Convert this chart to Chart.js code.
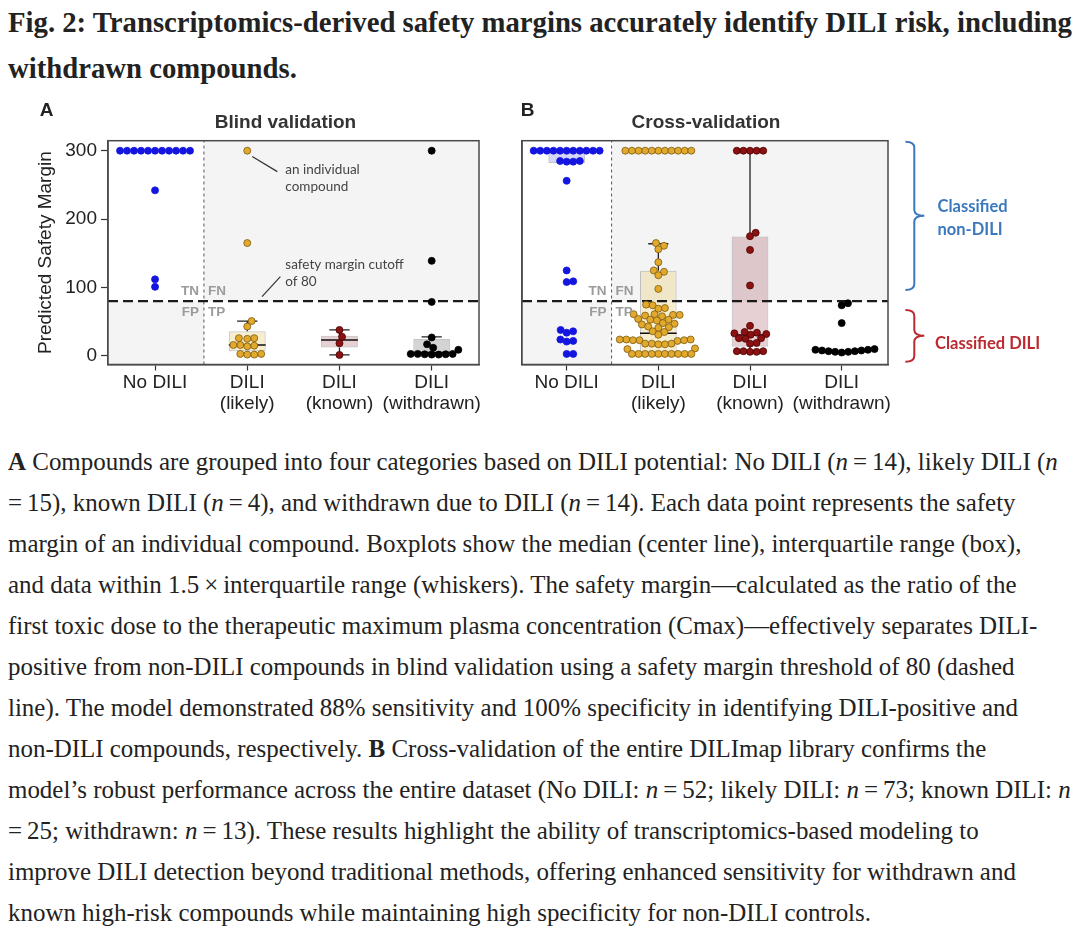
<!DOCTYPE html>
<html>
<head>
<meta charset="utf-8">
<title>Fig. 2 DILI safety margins</title>
<script src="https://cdn.jsdelivr.net/npm/chart.js@4.4.1/dist/chart.umd.min.js"></script>
<style>
  html, body { margin: 0; padding: 0; background: #fff; }
  body { width: 1080px; height: 939px; position: relative; overflow: hidden; color: #222; }
  #title { position: absolute; left: 8px; top: -1px; font-family: 'Liberation Serif', serif; font-weight: bold; font-size: 24px; line-height: 46px; white-space: nowrap; }
  #title div { height: 46px; }
  #caption { position: absolute; left: 8px; top: 440.5px; font-family: 'Liberation Serif', serif; font-size: 21px; line-height: 41px; white-space: nowrap; }
  #caption div { height: 41px; }
  canvas { position: absolute; top: 95px; }
  #blind { left: 0; }
  #cross { left: 500px; }
</style>
</head>
<body>
<div id="title">
  <div><span id="t1">Fig. 2: Transcriptomics-derived safety margins accurately identify DILI risk, including</span></div>
  <div>withdrawn compounds.</div>
</div>

<canvas id="blind" width="500" height="330"></canvas>
<canvas id="cross" width="580" height="330"></canvas>

<div id="caption">
  <div><span id="c1"><b>A</b> Compounds are grouped into four categories based on DILI potential: No DILI (<i>n</i>&thinsp;=&thinsp;14), likely DILI (<i>n</i></span></div>
  <div>=&thinsp;15), known DILI (<i>n</i>&thinsp;=&thinsp;4), and withdrawn due to DILI (<i>n</i>&thinsp;=&thinsp;14). Each data point represents the safety</div>
  <div>margin of an individual compound. Boxplots show the median (center line), interquartile range (box),</div>
  <div>and data within 1.5&thinsp;×&thinsp;interquartile range (whiskers). The safety margin—calculated as the ratio of the</div>
  <div>first toxic dose to the therapeutic maximum plasma concentration (Cmax)—effectively separates DILI-</div>
  <div>positive from non-DILI compounds in blind validation using a safety margin threshold of 80 (dashed</div>
  <div>line). The model demonstrated 88% sensitivity and 100% specificity in identifying DILI-positive and</div>
  <div>non-DILI compounds, respectively. <b>B</b> Cross-validation of the entire DILImap library confirms the</div>
  <div>model’s robust performance across the entire dataset (No DILI: <i>n</i>&thinsp;=&thinsp;52; likely DILI: <i>n</i>&thinsp;=&thinsp;73; known DILI: <i>n</i></div>
  <div>=&thinsp;25; withdrawn: <i>n</i>&thinsp;=&thinsp;13). These results highlight the ability of transcriptomics-based modeling to</div>
  <div>improve DILI detection beyond traditional methods, offering enhanced sensitivity for withdrawn and</div>
  <div>known high-risk compounds while maintaining high specificity for non-DILI controls.</div>
</div>

<script>
Chart.defaults.font.family = "'Liberation Sans', Arial, sans-serif";
Chart.defaults.color = '#222';

const categories = [['No DILI'], ['DILI', '(likely)'], ['DILI', '(known)'], ['DILI', '(withdrawn)']];
const yTicks = [0, 100, 200, 300];
const cutoff = 80;
const yMin = -12.5, yMax = 314.6;

// A - blind validation, predicted safety margin of each compound
const blindNoDili = [300, 300, 300, 300, 300, 300, 300, 300, 300, 300, 300, 242, 112, 101];
const blindLikely = [300, 165, 51, 43, 26, 26, 25, 16, 15, 16, 14, 3, 2, 2, 3];
const blindKnown = [38, 28, 18.5, 1.5];
const blindWithdrawn = [300, 139, 79, 27, 17, 12, 9, 3, 2.5, 2, 3, 2.5, 2, 3];

// A - boxplot stats per category (null = no box)
const blindLow = [null, 2, 1.5, 2];
const blindQ1 = [null, 7, 12.2, 5.4];
const blindMedian = [null, 16, 23.4, 5];
const blindQ3 = [null, 36, 29.7, 24.8];
const blindHigh = [null, 51, 38, 28];

// B - cross-validation
const crossNoDili = [300, 300, 300, 300, 300, 300, 300, 300, 300, 300, 300,
  285, 284, 285, 284, 256, 125, 109, 108, 38, 36, 34, 24, 22, 21, 3, 3];
const crossLikely = [300, 300, 300, 300, 300, 300, 300, 300, 300, 300, 300,
  165, 161, 156, 137, 125, 123, 118, 98,
  75, 74, 70, 69, 61, 60, 60, 59, 61, 58, 54, 53, 52, 53, 48, 47, 46,
  43, 42, 41, 36, 35, 31, 24, 23, 24, 23, 22, 24, 23,
  18, 17, 18, 17, 18, 11, 10,
  3, 3, 3, 3, 3, 3, 3, 3, 3, 3];
const crossKnown = [300, 300, 300, 300, 300, 180, 175, 155, 103, 44,
  35, 34, 33, 32, 31, 26, 25, 26, 19, 18, 7, 6, 7, 6, 7];
const crossWithdrawn = [77, 74, 48, 10, 9, 8, 7, 6, 5, 7, 8, 6, 9];

const crossLow = [null, 2, 5, null];
const crossQ1 = [282, 5.4, 13.6, null];
const crossMedian = [300, 33, 30.7, null];
const crossQ3 = [299, 124.7, 174.5, null];
const crossHigh = [null, 164, 300, null];

const pointFill = ['#1515e0', '#e3a92c', '#8b1212', '#000000'];
const pointEdge = ['#1515e0', '#7a5a10', '#4d0000', '#000000'];
const boxFill = ['rgba(70,70,225,0.22)', 'rgba(232,205,120,0.35)', 'rgba(140,40,55,0.22)', 'rgba(0,0,0,0.17)'];

// beeswarm: place each point (bottom up) as close to the category centre as it fits
function swarm(values, chart, diameter) {
  const xs = chart.scales.x, ys = chart.scales.y;
  const unit = xs.getPixelForValue(1) - xs.getPixelForValue(0);
  const order = values.map((v, i) => i).sort((a, b) => values[a] - values[b]);
  const placed = [];
  const out = [];
  order.forEach(i => {
    const py = ys.getPixelForValue(values[i]);
    const cands = [0];
    placed.forEach(p => {
      const dy = Math.abs(py - p.y);
      if (dy < diameter) {
        const dx = Math.sqrt(diameter * diameter - dy * dy);
        cands.push(p.x + dx, p.x - dx);
      }
    });
    cands.sort((a, b) => Math.abs(a) - Math.abs(b));
    const px = cands.find(c => placed.every(p => Math.hypot(c - p.x, py - p.y) >= diameter - 0.01));
    placed.push({x: px, y: py});
    out[i] = px / unit;
  });
  return out;
}

function boxParts(low, q1, med, q3, high) {
  const half = 0.2, cap = 0.11;
  const boxes = [], colors = [], meds = [], whisk = [];
  q1.forEach((v, c) => {
    if (v == null) return;
    boxes.push({x: c, y: [q1[c], q3[c]]});
    colors.push(boxFill[c]);
    meds.push({x: c - half, y: med[c]}, {x: c + half, y: med[c]}, {x: c, y: null});
    [[q3[c], high[c]], [q1[c], low[c]]].forEach(([from, to]) => {
      if (to == null) return;
      whisk.push({x: c, y: from}, {x: c, y: to}, {x: c, y: null},
        {x: c - cap, y: to}, {x: c + cap, y: to}, {x: c, y: null});
    });
  });
  return {boxes, colors, meds, whisk};
}

const panelDecor = {
  id: 'panelDecor',
  beforeDatasetsDraw(chart, args, opts) {
    const {ctx, chartArea: a, scales: {x, y}} = chart;
    const xs = x.getPixelForValue(opts.split);
    const yc = y.getPixelForValue(cutoff);
    ctx.save();
    ctx.fillStyle = '#f4f4f4';
    ctx.fillRect(a.left, yc, xs - a.left, a.bottom - yc);
    ctx.fillRect(xs, a.top, a.right - xs, yc - a.top);
    ctx.restore();
  },
  afterDatasetsDraw(chart, args, opts) {
    const {ctx, chartArea: a, scales: {x, y}} = chart;
    const xs = x.getPixelForValue(opts.split);
    const yc = y.getPixelForValue(cutoff);
    ctx.save();
    ctx.strokeStyle = '#4a4a4a';
    ctx.lineWidth = 1.5;
    ctx.strokeRect(a.left, a.top, a.right - a.left, a.bottom - a.top);

    ctx.font = "bold 13.5px 'Liberation Sans', Arial";
    ctx.fillStyle = '#9b9b9b';
    ctx.textBaseline = 'middle';
    ctx.textAlign = 'right';
    ctx.fillText('TN', xs - 5, yc - 9.5);
    ctx.fillText('FP', xs - 5, yc + 11.5);
    ctx.textAlign = 'left';
    ctx.fillText('FN', xs + 4, yc - 9.5);
    ctx.fillText('TP', xs + 4, yc + 11.5);

    ctx.textAlign = 'center';
    ctx.font = "bold 19px 'Liberation Sans', Arial";
    ctx.fillStyle = '#222';
    ctx.fillText(opts.letter, opts.letterX, 16);
    ctx.fillStyle = '#333';
    ctx.fillText(opts.title, opts.titleX, 27.5);

    // callouts
    ctx.font = "13.5px Lato, 'Open Sans', sans-serif";
    ctx.textAlign = 'left';
    (opts.notes || []).forEach(n => {
      ctx.fillStyle = '#444';
      n.lines.forEach((t, k) => ctx.fillText(t, x.getPixelForValue(n.x), y.getPixelForValue(n.y) + k * 17));
      ctx.strokeStyle = '#333';
      ctx.lineWidth = 1.2;
      ctx.beginPath();
      ctx.moveTo(x.getPixelForValue(n.from[0]), y.getPixelForValue(n.from[1]));
      ctx.lineTo(x.getPixelForValue(n.to[0]), y.getPixelForValue(n.to[1]));
      ctx.stroke();
    });

    // classification braces
    (opts.braces || []).forEach(b => {
      const xl = a.right + 17.4, xv = a.right + 26.3, xt = a.right + 36.3, r = 6;
      ctx.strokeStyle = b.color;
      ctx.lineWidth = 2;
      ctx.beginPath();
      ctx.moveTo(xl, b.top);
      ctx.quadraticCurveTo(xv, b.top, xv, b.top + r);
      ctx.lineTo(xv, b.mid - r);
      ctx.quadraticCurveTo(xv, b.mid, xt, b.mid);
      ctx.quadraticCurveTo(xv, b.mid, xv, b.mid + r);
      ctx.lineTo(xv, b.bottom - r);
      ctx.quadraticCurveTo(xv, b.bottom, xl, b.bottom);
      ctx.stroke();
      ctx.fillStyle = b.color;
      ctx.font = "bold 16.5px Lato, 'Open Sans', sans-serif";
      b.lines.forEach((t, k) => ctx.fillText(t, a.right + b.textDx, b.textY + k * 23.3));
    });
    ctx.restore();
  }
};

function makePanel(id, groups, stats, o) {
  const parts = boxParts(...stats);
  const pointSets = groups.map((vals, c) => ({
    type: 'scatter',
    data: vals.map(v => ({x: c, y: v})),
    pointRadius: 3.5,
    pointBackgroundColor: pointFill[c],
    pointBorderColor: pointEdge[c],
    pointBorderWidth: 0.8,
    order: 1
  }));
  const chart = new Chart(document.getElementById(id), {
    type: 'scatter',
    data: {
      datasets: [
        ...pointSets,
        {type: 'line', data: [{x: o.xMin, y: cutoff}, {x: o.xMax, y: cutoff}],
          borderColor: '#1a1a1a', borderWidth: 2.2, borderDash: [10, 5], pointRadius: 0, order: 2},
        {type: 'line', data: parts.meds, borderColor: '#111', borderWidth: 1.5, pointRadius: 0, order: 3},
        {type: 'line', data: parts.whisk, borderColor: '#222', borderWidth: 1.3, pointRadius: 0, order: 3},
        {type: 'bar', data: parts.boxes, backgroundColor: parts.colors, borderColor: 'rgba(150,150,150,0.55)',
          borderWidth: 1, borderSkipped: false, barPercentage: 0.4, categoryPercentage: 1, grouped: false, order: 4},
        {type: 'line', data: [{x: o.split, y: yMin}, {x: o.split, y: yMax}],
          borderColor: '#555', borderWidth: 1, borderDash: [3, 3], pointRadius: 0, order: 5}
      ]
    },
    options: {
      responsive: false,
      animation: false,
      layout: {padding: {top: 45.7, right: o.padRight, left: 0, bottom: 0}},
      plugins: {
        legend: {display: false},
        tooltip: {enabled: false},
        panelDecor: o.decor
      },
      scales: {
        x: {
          type: 'linear', min: o.xMin, max: o.xMax, offset: false,
          afterBuildTicks: s => { s.ticks = categories.map((c, i) => ({value: i})); },
          afterFit: s => { s.height = 60.5; },
          ticks: {callback: v => categories[v], font: {size: 19, lineHeight: 1.1}, color: '#222',
            padding: 2, maxRotation: 0, autoSkip: false},
          grid: {offset: false, drawOnChartArea: false, drawTicks: true, tickLength: 6, tickColor: '#333', tickWidth: 1.2},
          border: {display: true, color: '#4a4a4a', width: 1.5}
        },
        y: {
          min: yMin, max: yMax,
          afterBuildTicks: s => { s.ticks = yTicks.map(v => ({value: v})); },
          afterFit: s => { s.width = o.axisWidth; },
          ticks: {display: o.yLabels, font: {size: 19}, color: '#222', padding: 4},
          title: {display: o.yLabels, text: 'Predicted Safety Margin', font: {size: 19}, color: '#222',
            padding: {top: 34, bottom: 0}},
          grid: {drawOnChartArea: false, drawTicks: o.yLabels, tickLength: 7, tickColor: '#333', tickWidth: 1.2},
          border: {display: true, color: '#4a4a4a', width: 1.5}
        }
      }
    },
    plugins: [panelDecor]
  });
  groups.forEach((vals, c) => {
    const off = swarm(vals, chart, o.spacing);
    chart.data.datasets[c].data = vals.map((v, i) => ({x: c + off[i], y: v}));
  });
  chart.update('none');
  return chart;
}

makePanel('blind', [blindNoDili, blindLikely, blindKnown, blindWithdrawn],
  [blindLow, blindQ1, blindMedian, blindQ3, blindHigh], {
    xMin: -0.51, xMax: 3.513, split: 0.53, padRight: 21, axisWidth: 108, yLabels: true, spacing: 7,
    decor: {
      split: 0.53, letter: 'A', letterX: 46.5, title: 'Blind validation', titleX: 285.5,
      notes: [
        {lines: ['an individual', 'compound'], x: 1.413, y: 272, from: [1.054, 291.4], to: [1.326, 269.4]},
        {lines: ['safety margin cutoff', 'of 80'], x: 1.413, y: 133, from: [1.16, 86.7], to: [1.359, 115.9]}
      ]
    }
  });

makePanel('cross', [crossNoDili, crossLikely, crossKnown, crossWithdrawn],
  [crossLow, crossQ1, crossMedian, crossQ3, crossHigh], {
    xMin: -0.487, xMax: 3.505, split: 0.49, padRight: 192, axisWidth: 22, yLabels: false, spacing: 6.6,
    decor: {
      split: 0.49, letter: 'B', letterX: 27.7, title: 'Cross-validation', titleX: 206,
      braces: [
        {color: '#3b78bd', top: 46.7, mid: 120.7, bottom: 195, lines: ['Classified', 'non-DILI'], textDx: 49.5, textY: 111.7},
        {color: '#bb2a30', top: 215, mid: 240.7, bottom: 266.7, lines: ['Classified DILI'], textDx: 47, textY: 248.3}
      ]
    }
  });

// fit the text blocks to the measured line widths of the reference
function fitWidth(blockId, lineId, target) {
  const block = document.getElementById(blockId);
  const w = document.getElementById(lineId).getBoundingClientRect().width;
  const fs = parseFloat(getComputedStyle(block).fontSize);
  block.style.fontSize = (fs * target / w).toFixed(2) + 'px';
}
fitWidth('title', 't1', 1064);
fitWidth('caption', 'c1', 1050);
</script>
</body>
</html>
